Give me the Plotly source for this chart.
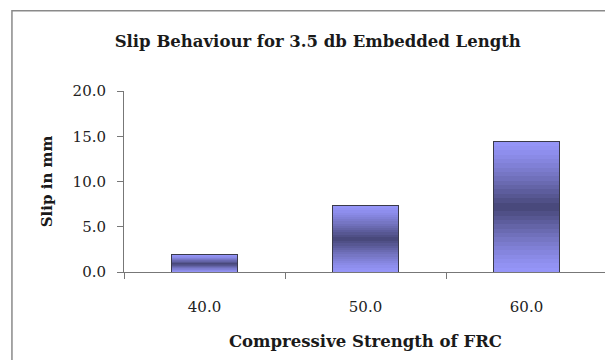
import plotly.graph_objects as go

categories = ["40.0", "50.0", "60.0"]
slip_mm = [1.9, 7.3, 14.4]
y_ticks = [0, 5, 10, 15, 20]

title_text = "Slip Behaviour for 3.5 db Embedded Length"
x_title = "Compressive Strength of FRC"
y_title = "Slip in mm"

FONT = "DejaVu Serif"

# vertical gradient: light -> dark (middle) -> light
light = (150, 150, 250)
dark = (70, 70, 118)
N = 30


def lerp(a, b, t):
    return tuple(int(round(a[i] + (b[i] - a[i]) * t)) for i in range(3))


fig = go.Figure()
for k in range(N):
    pos = (k + 0.5) / N  # 0 bottom .. 1 top
    t = 1 - abs(pos - 0.5) * 2  # 1 at middle
    t = t ** 1.3
    c = lerp(light, dark, t)
    fig.add_trace(go.Bar(
        x=categories,
        y=[v / N for v in slip_mm],
        marker=dict(color="rgb(%d,%d,%d)" % c, line=dict(width=0)),
        showlegend=False,
        hoverinfo="skip",
        xaxis="x", yaxis="y",
    ))

# outline
fig.add_trace(go.Bar(
    x=categories, y=slip_mm,
    marker=dict(color="rgba(0,0,0,0)", line=dict(color="#3a3a4a", width=1)),
    showlegend=False, xaxis="x2", yaxis="y",
))

fig.update_layout(
    width=605, height=352,
    barmode="stack",
    bargap=0.59,
    plot_bgcolor="white",
    paper_bgcolor="white",
    margin=dict(l=116, r=6, t=83, b=88),
    font=dict(family=FONT, color="#222222", size=15),
    title=dict(text="<b>" + title_text + "</b>", x=0.512, xanchor="center",
               y=0.906, yanchor="middle",
               font=dict(family=FONT, size=16.5, color="#1a1a1a")),
    xaxis=dict(
        type="category",
        tickson="boundaries",
        ticks="outside", ticklen=6, tickcolor="#777777",
        showline=True, linecolor="#777777", linewidth=1,
        showgrid=False,
        ticklabelstandoff=21,
        tickfont=dict(family=FONT, size=15, color="#222222"),
        title=dict(text="<b>" + x_title + "</b>", standoff=20,
                   font=dict(family=FONT, size=16.5, color="#1a1a1a")),
    ),
    xaxis2=dict(
        type="category", overlaying="x", matches="x", visible=False,
    ),
    yaxis=dict(
        range=[0, 20],
        tickvals=y_ticks,
        tickformat=".1f",
        ticks="outside", ticklen=6, tickcolor="#777777",
        showline=True, linecolor="#777777", linewidth=1,
        showgrid=False, zeroline=False,
        ticklabelstandoff=8,
        tickfont=dict(family=FONT, size=15, color="#222222"),
        title=dict(text="<b>" + y_title + "</b>", standoff=16,
                   font=dict(family=FONT, size=15, color="#1a1a1a")),
    ),
    shapes=[dict(type="rect", xref="paper", yref="paper",
                 x0=-0.232, x1=1.4, y0=-0.9, y1=1.444,
                 line=dict(color="#8a8a8a", width=1.5),
                 fillcolor="rgba(0,0,0,0)", layer="below")],
)

fig.write_html("out.html")
